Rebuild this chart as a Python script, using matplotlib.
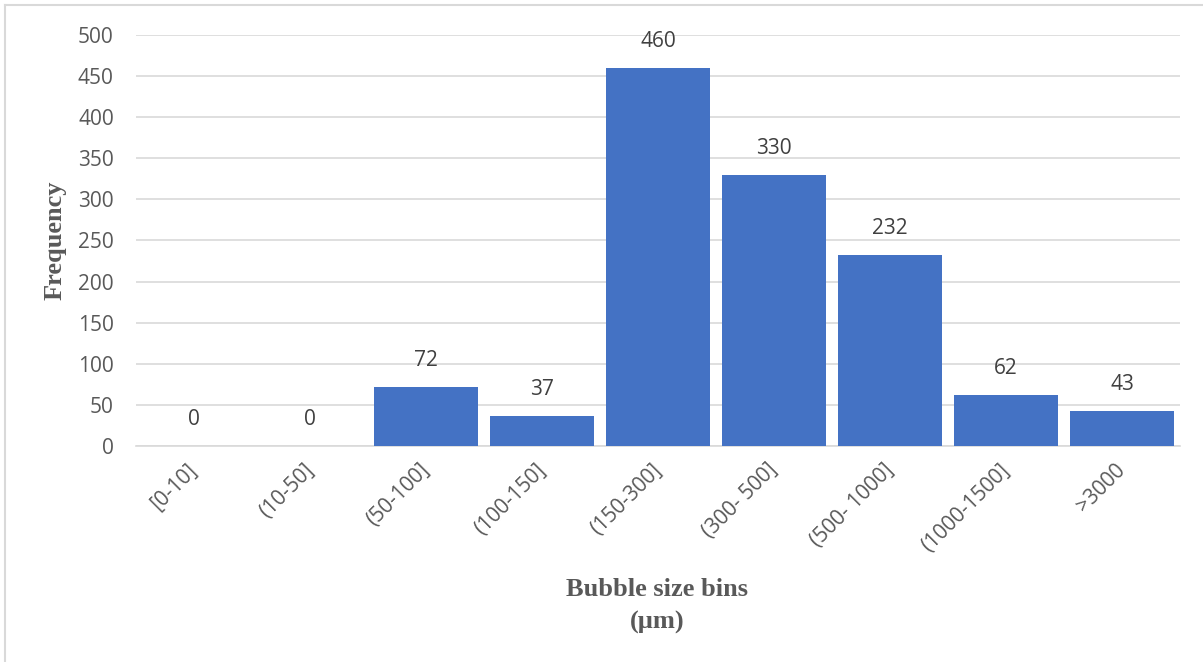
import matplotlib
matplotlib.use("Agg")
import matplotlib.pyplot as plt
from matplotlib.lines import Line2D

categories = ["[0-10]", "(10-50]", "(50-100]", "(100-150]", "(150-300]",
              "(300- 500]", "(500- 1000]", "(1000-1500]", ">3000"]
frequency = [0, 0, 72, 37, 460, 330, 232, 62, 43]
y_ticks = [0, 50, 100, 150, 200, 250, 300, 350, 400, 450, 500]

W, H = 1203, 662
fig = plt.figure(figsize=(W / 100, H / 100), dpi=100)
fig.patch.set_facecolor("white")

ax = fig.add_axes([136 / W, 1 - 446 / H, (1180 - 136) / W, (446 - 35) / H])
x = list(range(len(categories)))
bars = ax.bar(x, frequency, width=0.905, color="#4472C4", zorder=3)

ax.set_xlim(-0.5, len(categories) - 0.5)
ax.set_ylim(0, 500)
ax.set_yticks(y_ticks)
ax.set_yticklabels([str(v) for v in y_ticks])
ax.yaxis.grid(True, color="#d9d9d9", linewidth=1.2, zorder=0)
ax.set_axisbelow(True)
for s in ("top", "right", "left"):
    ax.spines[s].set_visible(False)
ax.spines["bottom"].set_color("#d9d9d9")
ax.spines["bottom"].set_linewidth(1.2)
ax.tick_params(axis="both", length=0, labelsize=15, labelcolor="#595959")
ax.tick_params(axis="y", pad=16)

ax.set_xticks(x)
ax.set_xticklabels(categories, rotation=45, ha="right", va="center",
                   rotation_mode="anchor", fontsize=15, color="#595959")
ax.tick_params(axis="x", pad=15)
for lbl in ax.get_xticklabels() + ax.get_yticklabels():
    lbl.set_family("Open Sans")

for xi, v in zip(x, frequency):
    ax.annotate(str(v), (xi, v), xytext=(0, 19), textcoords="offset points",
                ha="center", va="center", fontsize=15, color="#404040",
                family="Open Sans")

fig.text(55 / W, 1 - 240 / H, "Frequency", rotation=90, ha="center", va="center",
         fontsize=19, fontweight="bold", color="#595959", family="Liberation Serif")
fig.text(657 / W, 1 - 590 / H, "Bubble size bins", ha="center", va="center",
         fontsize=19, fontweight="bold", color="#595959", family="Liberation Serif")
fig.text(657 / W, 1 - 622 / H, "(µm)", ha="center", va="center",
         fontsize=19, fontweight="bold", color="#595959", family="Liberation Serif")

# chart border (left and top edges)
fig.add_artist(Line2D([5 / W, 5 / W], [0, 1 - 5 / H], color="#d9d9d9", linewidth=1.5,
                      transform=fig.transFigure))
fig.add_artist(Line2D([5 / W, 1], [1 - 5 / H, 1 - 5 / H], color="#d9d9d9", linewidth=1.5,
                      transform=fig.transFigure))

fig.savefig("out.png", dpi=100)
